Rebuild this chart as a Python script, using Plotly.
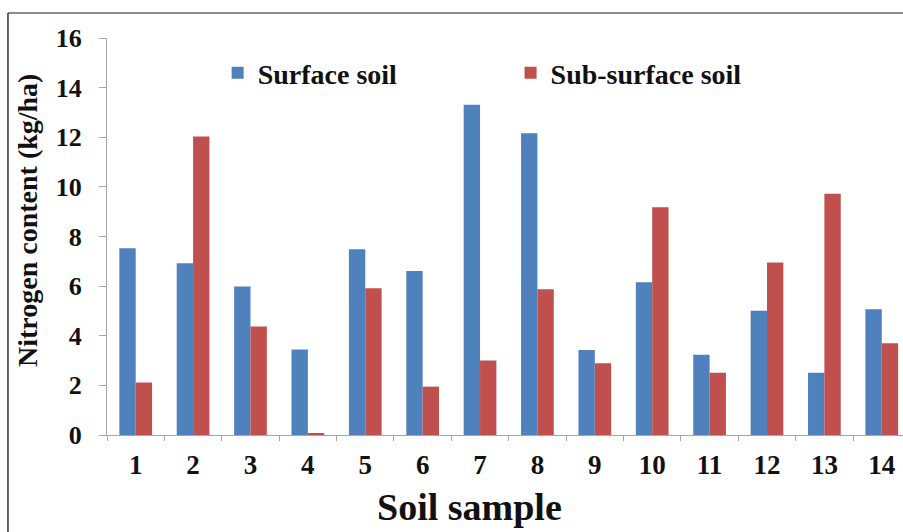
import plotly.graph_objects as go

# Soil samples and nitrogen content (kg/ha)
samples = ["1", "2", "3", "4", "5", "6", "7", "8", "9", "10", "11", "12", "13", "14"]
surface_soil = [7.53, 6.92, 5.98, 3.45, 7.49, 6.61, 13.31, 12.16, 3.43, 6.16, 3.23, 5.01, 2.51, 5.07]
sub_surface_soil = [2.12, 12.03, 4.37, 0.05, 5.91, 1.95, 3.00, 5.87, 2.89, 9.18, 2.51, 6.95, 9.72, 3.70]
y_ticks = [0, 2, 4, 6, 8, 10, 12, 14, 16]

SERIF = "Liberation Serif"
AXIS_GRAY = "#a6a6a6"
INK = "#111111"

fig = go.Figure()
fig.add_trace(go.Bar(
    x=samples, y=surface_soil, name="Surface soil",
    marker=dict(color="#4f81bd", line=dict(width=0)), legend="legend",
))
fig.add_trace(go.Bar(
    x=samples, y=sub_surface_soil, name="Sub-surface soil",
    marker=dict(color="#c0504d", line=dict(width=0)), legend="legend2",
))

legend_font = dict(family=SERIF, size=28, color=INK, weight="bold")

fig.update_layout(
    width=903, height=532,
    margin=dict(l=107, r=0, t=38, b=97),
    paper_bgcolor="white", plot_bgcolor="white",
    barmode="group", bargap=0.43, bargroupgap=0,
    font=dict(family=SERIF, color=INK),
    showlegend=True,
    legend=dict(
        x=0.139, y=0.912, xanchor="left", yanchor="middle",
        font=legend_font, bgcolor="rgba(0,0,0,0)", borderwidth=0,
    ),
    legend2=dict(
        x=0.507, y=0.912, xanchor="left", yanchor="middle",
        font=legend_font, bgcolor="rgba(0,0,0,0)", borderwidth=0,
    ),
    xaxis=dict(
        type="category",
        range=[-0.5, 13.37],
        showline=True, linecolor=AXIS_GRAY, linewidth=1,
        ticks="outside", tickson="boundaries", ticklen=5, tickcolor=AXIS_GRAY,
        tickfont=dict(family=SERIF, size=27, color=INK, weight="bold"),
        ticklabelstandoff=6,
        showgrid=False, zeroline=False,
    ),
    yaxis=dict(
        range=[0, 16],
        tickvals=y_ticks,
        showline=True, linecolor=AXIS_GRAY, linewidth=1,
        ticks="outside", ticklen=7, tickcolor=AXIS_GRAY,
        tickfont=dict(family=SERIF, size=26, color=INK, weight="bold"),
        ticklabelstandoff=12,
        showgrid=False, zeroline=False,
    ),
    annotations=[
        dict(
            text="Soil sample", xref="paper", yref="paper",
            x=0.456, y=-0.181, xanchor="center", yanchor="middle",
            showarrow=False,
            font=dict(family=SERIF, size=38, color=INK, weight="bold"),
        ),
        dict(
            text="Nitrogen content (kg/ha)", xref="paper", yref="paper",
            x=-0.1005, y=0.539, xanchor="center", yanchor="middle",
            textangle=-90, showarrow=False,
            font=dict(family=SERIF, size=28, color=INK, weight="bold"),
        ),
    ],
    shapes=[
        # outer frame: top and left edges
        dict(type="line", xref="paper", yref="paper",
             x0=-0.1244, x1=1.02, y0=1.063, y1=1.063,
             line=dict(color="#666666", width=1.5)),
        dict(type="line", xref="paper", yref="paper",
             x0=-0.1244, x1=-0.1244, y0=1.063, y1=-0.3,
             line=dict(color="#333333", width=1.5)),
    ],
)

fig.write_html("out.html")
